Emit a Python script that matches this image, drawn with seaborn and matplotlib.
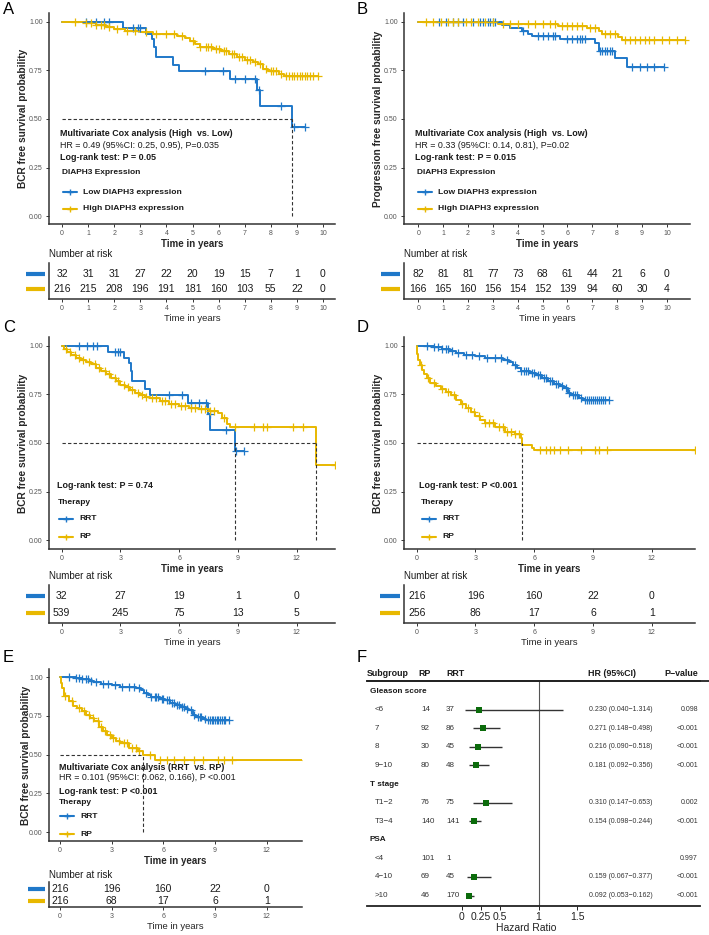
import numpy as np
import pandas as pd
import matplotlib
matplotlib.use('Agg')
import matplotlib.pyplot as plt
from matplotlib.lines import Line2D
from matplotlib.transforms import blended_transform_factory
import seaborn as sns

BLUE = '#1f78c9'
YELLOW = '#e8b800'
GREEN = '#0b6b0b'
DARK = '#333333'

# ---- Kaplan-Meier step points ----
# 32 RRT patients (= low DIAPH3 group in A)
rrt32_t = [0, 2.34, 3.2, 3.44, 3.52, 3.6, 4.27, 4.5, 6.44, 7.46, 7.6, 8.83]
rrt32_s = [1.0, 0.969, 0.94, 0.91, 0.87, 0.82, 0.78, 0.745, 0.705, 0.65, 0.565, 0.457]
rrt32_end = 9.3
rrt32_cens = [0.9, 1.3, 1.6, 1.8, 2.7, 2.9, 3.0, 5.48, 6.16, 6.63, 7.01, 7.39, 7.55, 8.4, 8.9, 9.3]

# 216 RRT patients (= high DIAPH3 group in A)
rrt216_t = [0, 0.9, 1.3, 1.7, 2.0, 2.4, 3.0, 3.5, 4.4, 4.7, 4.9, 5.1, 5.3, 5.8, 6.1, 6.4,
            6.7, 7.0, 7.3, 7.5, 7.7, 7.9, 8.3, 8.5]
rrt216_s = [1.0, 0.995, 0.985, 0.975, 0.965, 0.955, 0.948, 0.938, 0.93, 0.915, 0.9, 0.885,
            0.87, 0.86, 0.85, 0.835, 0.82, 0.805, 0.795, 0.785, 0.755, 0.745, 0.73, 0.722]
rrt216_end = 9.8
rrt216_cens = [0.5, 0.9, 1.1, 1.3, 1.5, 1.6, 1.8, 2.1, 2.5, 2.8, 3.2, 3.6, 4.0, 4.3, 4.6, 5.0,
               5.3, 5.5, 5.6, 5.7, 5.9, 6.0, 6.2, 6.3, 6.5, 6.6, 6.8, 6.9, 7.1, 7.2, 7.4, 7.6,
               7.8, 8.0, 8.1, 8.2, 8.4, 8.6, 8.7, 8.8, 8.9, 9.0, 9.1, 9.2, 9.3, 9.4, 9.5, 9.6, 9.8]

# panel B: progression free survival
pfs_low_t = [0, 3.36, 3.7, 4.16, 4.4, 4.56, 5.7, 7.1, 7.25, 7.9, 8.4]
pfs_low_s = [1.0, 0.985, 0.97, 0.955, 0.94, 0.925, 0.91, 0.89, 0.85, 0.815, 0.766]
pfs_low_end = 9.87
pfs_low_cens = [0.85, 1.1, 1.4, 1.6, 1.8, 2.2, 2.5, 2.6, 2.8, 2.9, 3.0, 3.1, 4.2, 4.8, 5.0,
                5.2, 5.4, 5.5, 6.0, 6.2, 6.4, 6.5, 6.6, 6.7, 7.3, 7.4, 7.5, 7.6, 7.7, 7.8,
                8.6, 8.9, 9.2, 9.5, 9.87]
pfs_high_t = [0, 3.2, 5.6, 6.8, 7.25, 7.4, 8.05, 8.2]
pfs_high_s = [1.0, 0.99, 0.98, 0.97, 0.955, 0.94, 0.92, 0.905]
pfs_high_end = 10.74
pfs_high_cens = [0.3, 0.6, 0.9, 1.2, 1.4, 1.6, 1.9, 2.1, 2.4, 2.7, 3.0, 3.4, 3.7, 4.0, 4.4,
                 4.7, 5.0, 5.3, 5.5, 5.8, 6.0, 6.2, 6.4, 6.6, 6.9, 7.1, 7.5, 7.7, 7.9, 8.3,
                 8.5, 8.7, 8.9, 9.1, 9.3, 9.5, 9.8, 10.1, 10.4, 10.74]

# panel C: 539 RP patients
rp539_t = [0, 0.1, 0.25, 0.5, 0.75, 1.0, 1.25, 1.5, 1.75, 2.0, 2.25, 2.5, 2.75, 3.0, 3.25,
           3.5, 3.75, 4.0, 4.25, 4.5, 5.0, 5.5, 6.0, 6.5, 7.0, 7.5, 8.0, 8.2, 8.45, 8.6, 13.0]
rp539_s = [1.0, 0.985, 0.97, 0.955, 0.94, 0.93, 0.918, 0.905, 0.888, 0.87, 0.853, 0.835,
           0.818, 0.80, 0.787, 0.775, 0.76, 0.745, 0.737, 0.73, 0.715, 0.70, 0.69, 0.68,
           0.675, 0.667, 0.653, 0.627, 0.60, 0.58, 0.387]
rp539_end = 13.96
rp539_cens = [0.2, 0.4, 0.7, 0.9, 1.1, 1.4, 1.7, 1.9, 2.2, 2.4, 2.7, 2.9, 3.2, 3.4, 3.6, 3.9,
              4.1, 4.3, 4.6, 4.8, 5.1, 5.3, 5.6, 5.8, 6.1, 6.3, 6.6, 6.8, 7.1, 7.3, 7.6, 7.8,
              8.3, 8.85, 9.8, 10.3, 10.5, 11.8, 12.3, 13.96]

# panel D: 256 RP patients
rp256_t = [0, 0.03, 0.08, 0.15, 0.25, 0.35, 0.5, 0.7, 1.0, 1.25, 1.5, 1.75, 2.0, 2.25, 2.5,
           2.75, 3.0, 3.25, 3.5, 4.0, 4.5, 5.0, 5.3, 5.4, 5.9, 6.0]
rp256_s = [1.0, 0.96, 0.93, 0.90, 0.875, 0.855, 0.833, 0.81, 0.795, 0.78, 0.765, 0.745,
           0.722, 0.70, 0.679, 0.66, 0.639, 0.62, 0.601, 0.584, 0.558, 0.546, 0.524, 0.49,
           0.473, 0.464]
rp256_end = 14.2
rp256_cens = [0.2, 0.6, 0.9, 1.3, 1.6, 1.9, 2.3, 2.6, 2.9, 3.2, 3.5, 3.7, 3.9, 4.2, 4.4, 4.6,
              4.8, 5.0, 5.2, 6.3, 6.6, 6.8, 7.0, 7.3, 7.7, 8.4, 9.1, 9.3, 9.7, 14.2]

# panel E: 216 matched RP patients
rp216_t = [0, 0.05, 0.1, 0.25, 0.5, 0.75, 1.0, 1.25, 1.5, 1.75, 2.0, 2.25, 2.5, 2.75, 3.0,
           3.25, 3.5, 4.0, 4.5, 4.8, 5.5]
rp216_s = [1.0, 0.96, 0.929, 0.88, 0.843, 0.815, 0.80, 0.78, 0.757, 0.735, 0.714, 0.68,
           0.649, 0.625, 0.606, 0.59, 0.574, 0.542, 0.52, 0.495, 0.467]
rp216_end = 14.3
rp216_cens = [0.3, 0.7, 1.1, 1.4, 1.7, 1.9, 2.2, 2.4, 2.6, 2.9, 3.1, 3.4, 3.7, 3.9, 4.2, 4.4,
              4.6, 5.2, 5.8, 6.2, 6.6, 7.2, 7.8, 8.3, 9.2, 9.5, 10.0, 14.3]

# ---- numbers at risk ----
risk_times_A = list(range(11))
risk_A_low = [32, 31, 31, 27, 22, 20, 19, 15, 7, 1, 0]
risk_A_high = [216, 215, 208, 196, 191, 181, 160, 103, 55, 22, 0]
risk_B_low = [82, 81, 81, 77, 73, 68, 61, 44, 21, 6, 0]
risk_B_high = [166, 165, 160, 156, 154, 152, 139, 94, 60, 30, 4]
risk_times_C = [0, 3, 6, 9, 12]
risk_C_rrt = [32, 27, 19, 1, 0]
risk_C_rp = [539, 245, 75, 13, 5]
risk_D_rrt = [216, 196, 160, 22, 0]
risk_D_rp = [256, 86, 17, 6, 1]
risk_E_rrt = [216, 196, 160, 22, 0]
risk_E_rp = [216, 68, 17, 6, 1]

# ---- forest plot (panel F) ----
fp_label = ['Gleason score', '<6', '7', '8', '9\u221210', 'T stage', 'T1\u22122', 'T3\u22124',
            'PSA', '<4', '4\u221210', '>10']
fp_group = [True, False, False, False, False, True, False, False, True, False, False, False]
fp_rp = ['', '14', '92', '30', '80', '', '76', '140', '', '101', '69', '46']
fp_rrt = ['', '37', '86', '45', '48', '', '75', '141', '', '1', '45', '170']
fp_hr = [np.nan, 0.230, 0.271, 0.216, 0.181, np.nan, 0.310, 0.154, np.nan, np.nan, 0.159, 0.092]
fp_lo = [np.nan, 0.040, 0.148, 0.090, 0.092, np.nan, 0.147, 0.098, np.nan, np.nan, 0.067, 0.053]
fp_hi = [np.nan, 1.314, 0.498, 0.518, 0.356, np.nan, 0.653, 0.244, np.nan, np.nan, 0.377, 0.162]
fp_p = ['', '0.098', '<0.001', '<0.001', '<0.001', '', '0.002', '<0.001', '', '0.997',
        '<0.001', '<0.001']
fp_ticks = [0, 0.25, 0.5, 1, 1.5]

sns.set_style('ticks')
plt.rcParams['font.family'] = ['Liberation Sans', 'DejaVu Sans']

W, H = 709, 935
fig = plt.figure(figsize=(W / 100, H / 100), dpi=100)


def add_ax(l, t, r, b):
    return fig.add_axes([l / W, 1 - b / H, (r - l) / W, (b - t) / H])


def ftext(x, y, s, **kw):
    kw.setdefault('va', 'center')
    kw.setdefault('color', '#1a1a1a')
    fig.text(x / W, 1 - y / H, s, **kw)


def style_axes(ax):
    for side in ['top', 'right']:
        ax.spines[side].set_visible(False)
    for side in ['left', 'bottom']:
        ax.spines[side].set_color(DARK)
        ax.spines[side].set_linewidth(1.1)
    ax.tick_params(colors=DARK, labelcolor='#555555', labelsize=5, length=2.5, width=0.7, pad=2)


def km_curve(ax, t, s, end, cens, color):
    df = pd.DataFrame({'time': list(t) + [end], 'surv': list(s) + [s[-1]]})
    sns.lineplot(data=df, x='time', y='surv', ax=ax, color=color, lw=1.4,
                 drawstyle='steps-post', estimator=None, sort=False, legend=False)
    idx = np.searchsorted(t, cens, side='right') - 1
    cdf = pd.DataFrame({'time': cens, 'surv': np.asarray(s)[idx]})
    sns.scatterplot(data=cdf, x='time', y='surv', ax=ax, color=color, marker='+', s=26,
                    linewidth=0.9, legend=False, zorder=3)


def median_lines(ax, curves):
    meds = []
    for t, s in curves:
        below = np.nonzero(np.asarray(s) <= 0.5)[0]
        if len(below):
            meds.append(t[below[0]])
    if meds:
        ax.hlines(0.5, 0, max(meds), ls=(0, (3, 2)), color=DARK, lw=0.8, zorder=4)
        ax.vlines(meds, 0, 0.5, ls=(0, (3, 2)), color=DARK, lw=0.8, zorder=4)


def km_panel(box, xlim, ylim, xticks, curves, ylabel):
    ax = add_ax(*box)
    style_axes(ax)
    for t, s, end, cens, color in curves:
        km_curve(ax, t, s, end, cens, color)
    median_lines(ax, [(c[0], c[1]) for c in curves])
    ax.set_xlim(*xlim)
    ax.set_ylim(*ylim)
    ax.set_xticks(xticks)
    ax.set_yticks([0, 0.25, 0.5, 0.75, 1.0])
    ax.set_yticklabels(['0.00', '0.25', '0.50', '0.75', '1.00'])
    ax.set_xlabel('Time in years', fontsize=7, fontweight='bold', labelpad=1.2)
    ax.set_ylabel(ylabel, fontsize=7.3, fontweight='bold')
    ax.yaxis.set_label_coords(-0.073, 0.5)
    return ax


def risk_panel(box, xlim, ylim, times, rows, colors, fs=7.5):
    ax = add_ax(*box)
    style_axes(ax)
    ax.set_xlim(*xlim)
    ax.set_ylim(*ylim)
    ax.set_yticks([])
    ax.set_xticks(times)
    tr = blended_transform_factory(ax.transAxes, ax.transData)
    for i, (vals, c) in enumerate(zip(rows, colors)):
        y = len(rows) - 1 - i
        for tt, v in zip(times, vals):
            ax.text(tt, y, str(v), ha='center', va='center', fontsize=fs, color='#1a1a1a')
        ax.plot([-0.082, -0.014], [y, y], transform=tr, color=c, lw=3,
                solid_capstyle='butt', clip_on=False)
    ax.text(0, 1.1, 'Number at risk', transform=ax.transAxes, ha='left', va='bottom',
            fontsize=7, color='#1a1a1a')
    ax.set_xlabel('Time in years', fontsize=6.8, labelpad=1)
    return ax


def legend_block(x, y_title, y_rows, title, labels, colors):
    ftext(x, y_title, title, fontsize=6, fontweight='bold')
    for yy, lab, c in zip(y_rows, labels, colors):
        yf = 1 - yy / H
        fig.add_artist(Line2D([(x + 1) / W, (x + 15) / W], [yf, yf], transform=fig.transFigure,
                              color=c, lw=1.5))
        fig.add_artist(Line2D([(x + 8) / W], [yf], transform=fig.transFigure, color=c,
                              marker='+', ms=4.5, mew=1.0))
        ftext(x + 21, yy, lab, fontsize=6.1, fontweight='bold')


# ---------------- Panel A ----------------
km_panel((49, 13, 335, 224), (-0.5, 10.46), (-0.041, 1.046), risk_times_A,
         [(rrt32_t, rrt32_s, rrt32_end, rrt32_cens, BLUE),
          (rrt216_t, rrt216_s, rrt216_end, rrt216_cens, YELLOW)],
         'BCR free survival probability')
risk_panel((49, 263, 335, 299), (-0.5, 10.46), (-0.67, 1.73), risk_times_A,
           [risk_A_low, risk_A_high], [BLUE, YELLOW])
ftext(60, 134, 'Multivariate Cox analysis (High  vs. Low)', fontsize=6.4, fontweight='bold')
ftext(60, 146, 'HR = 0.49 (95%CI: 0.25, 0.95), P=0.035', fontsize=6.4)
ftext(60, 158, 'Log-rank test: P = 0.05', fontsize=6.4, fontweight='bold')
legend_block(62, 173, [192, 209], 'DIAPH3 Expression',
             ['Low DIAPH3 expression', 'High DIAPH3 expression'], [BLUE, YELLOW])

# ---------------- Panel B ----------------
km_panel((404, 13, 690, 224), (-0.576, 10.93), (-0.041, 1.046), risk_times_A,
         [(pfs_low_t, pfs_low_s, pfs_low_end, pfs_low_cens, BLUE),
          (pfs_high_t, pfs_high_s, pfs_high_end, pfs_high_cens, YELLOW)],
         'Progression free survival probability')
risk_panel((404, 263, 690, 299), (-0.576, 10.93), (-0.67, 1.73), risk_times_A,
           [risk_B_low, risk_B_high], [BLUE, YELLOW])
ftext(415, 134, 'Multivariate Cox analysis (High  vs. Low)', fontsize=6.4, fontweight='bold')
ftext(415, 146, 'HR = 0.33 (95%CI: 0.14, 0.81), P=0.02', fontsize=6.4)
ftext(415, 158, 'Log-rank test: P = 0.015', fontsize=6.4, fontweight='bold')
legend_block(417, 173, [192, 209], 'DIAPH3 Expression',
             ['Low DIAPH3 expression', 'High DIAPH3 expression'], [BLUE, YELLOW])

# ---------------- Panel C ----------------
km_panel((49, 337, 335, 549), (-0.648, 13.96), (-0.046, 1.046), risk_times_C,
         [(rrt32_t, rrt32_s, rrt32_end, rrt32_cens, BLUE),
          (rp539_t, rp539_s, rp539_end, rp539_cens, YELLOW)],
         'BCR free survival probability')
risk_panel((49, 585, 335, 623), (-0.648, 13.96), (-0.59, 1.65), risk_times_C,
           [risk_C_rrt, risk_C_rp], [BLUE, YELLOW])
ftext(57, 486, 'Log-rank test: P = 0.74', fontsize=6.4, fontweight='bold')
legend_block(58, 502, [519, 537], 'Therapy', ['RRT', 'RP'], [BLUE, YELLOW])

# ---------------- Panel D ----------------
km_panel((404, 337, 695, 549), (-0.649, 14.21), (-0.046, 1.046), risk_times_C,
         [(rrt216_t, rrt216_s, rrt216_end, rrt216_cens, BLUE),
          (rp256_t, rp256_s, rp256_end, rp256_cens, YELLOW)],
         'BCR free survival probability')
risk_panel((404, 585, 695, 623), (-0.649, 14.21), (-0.59, 1.65), risk_times_C,
           [risk_D_rrt, risk_D_rp], [BLUE, YELLOW])
ftext(419, 486, 'Log-rank test: P <0.001', fontsize=6.4, fontweight='bold')
legend_block(421, 502, [519, 537], 'Therapy', ['RRT', 'RP'], [BLUE, YELLOW])

# ---------------- Panel E ----------------
km_panel((49, 669, 302, 841), (-0.639, 14.05), (-0.058, 1.052), risk_times_C,
         [(rrt216_t, rrt216_s, rrt216_end, rrt216_cens, BLUE),
          (rp216_t, rp216_s, rp216_end, rp216_cens, YELLOW)],
         'BCR free survival probability')
risk_panel((49, 882, 302, 907), (-0.639, 14.05), (-0.5, 1.58), risk_times_C,
           [risk_E_rrt, risk_E_rp], [BLUE, YELLOW])
ftext(59, 767, 'Multivariate Cox analysis (RRT  vs. RP)', fontsize=6.4, fontweight='bold')
ftext(59, 778, 'HR = 0.101 (95%CI: 0.062, 0.166), P <0.001', fontsize=6.4)
ftext(59, 792, 'Log-rank test: P <0.001', fontsize=6.4, fontweight='bold')
legend_block(59, 803, [816, 834], 'Therapy', ['RRT', 'RP'], [BLUE, YELLOW])

# ---------------- Panel F (forest) ----------------
axf = add_ax(367, 681, 700, 906)
rows = np.arange(len(fp_label))
axf.set_ylim(len(fp_label) - 0.44, -0.54)
axf.set_xlim(-1.233, 3.1)
for side in ['left', 'right']:
    axf.spines[side].set_visible(False)
for side in ['top', 'bottom']:
    axf.spines[side].set_color('#222222')
    axf.spines[side].set_linewidth(1.3)
axf.axvline(1, color='#555555', lw=0.8, zorder=1)
hr = np.array(fp_hr)
ok = ~np.isnan(hr)
axf.hlines(rows[ok], np.array(fp_lo)[ok], np.array(fp_hi)[ok], color='#333333', lw=1.0, zorder=2)
fdf = pd.DataFrame({'hr': hr[ok], 'row': rows[ok]})
sns.scatterplot(data=fdf, x='hr', y='row', ax=axf, marker='s', s=24, color=GREEN,
                edgecolor=GREEN, linewidth=0, zorder=3, legend=False)
axf.set_yticks([])
axf.set_xticks(fp_ticks)
axf.set_xticklabels([f'{v:g}' for v in fp_ticks])
axf.tick_params(axis='x', labelsize=7.5, length=3, width=0.7, pad=1, colors='#222222')
axf.set_xlabel('Hazard Ratio', fontsize=7.5, color='#222222', labelpad=-2)
axf.xaxis.set_label_coords((526 - 367) / (700 - 367), -0.075)
axf.set_ylabel('')
trf = blended_transform_factory(fig.transFigure, axf.transData)
for i in rows:
    if fp_group[i]:
        axf.text(370 / W, i, fp_label[i], transform=trf, fontsize=5.9, fontweight='bold',
                 va='center', ha='left', color='#1a1a1a')
        continue
    axf.text(375 / W, i, fp_label[i], transform=trf, fontsize=5.8, va='center', color='#333333')
    axf.text(421 / W, i, fp_rp[i], transform=trf, fontsize=5.8, va='center', color='#333333')
    axf.text(446 / W, i, fp_rrt[i], transform=trf, fontsize=5.8, va='center', color='#333333')
    if ok[i]:
        hr_txt = f'{fp_hr[i]:.3f} ({fp_lo[i]:.3f}\u2212{fp_hi[i]:.3f})'
        axf.text(589 / W, i, hr_txt, transform=trf, fontsize=5.0, va='center', color='#333333')
    axf.text(698 / W, i, fp_p[i], transform=trf, fontsize=5.0, va='center', ha='right',
             color='#333333')
# header
ftext(367, 673, 'Subgroup', fontsize=6.4, fontweight='bold')
ftext(418, 673, 'RP', fontsize=6.4, fontweight='bold')
ftext(446, 673, 'RRT', fontsize=6.4, fontweight='bold')
ftext(588, 673, 'HR (95%CI)', fontsize=6.4, fontweight='bold')
ftext(698, 673, 'P\u2212value', fontsize=6.4, fontweight='bold', ha='right')
fig.add_artist(Line2D([367 / W, 709 / W], [1 - 681 / H] * 2, transform=fig.transFigure,
                      color='#222222', lw=1.3))

# panel letters
for letter, x, y in [('A', 3, 10), ('B', 357, 10), ('C', 3, 327), ('D', 357, 327),
                     ('E', 3, 658), ('F', 357, 658)]:
    ftext(x, y, letter, fontsize=12, color='black')

fig.savefig('out.png', dpi=100)
